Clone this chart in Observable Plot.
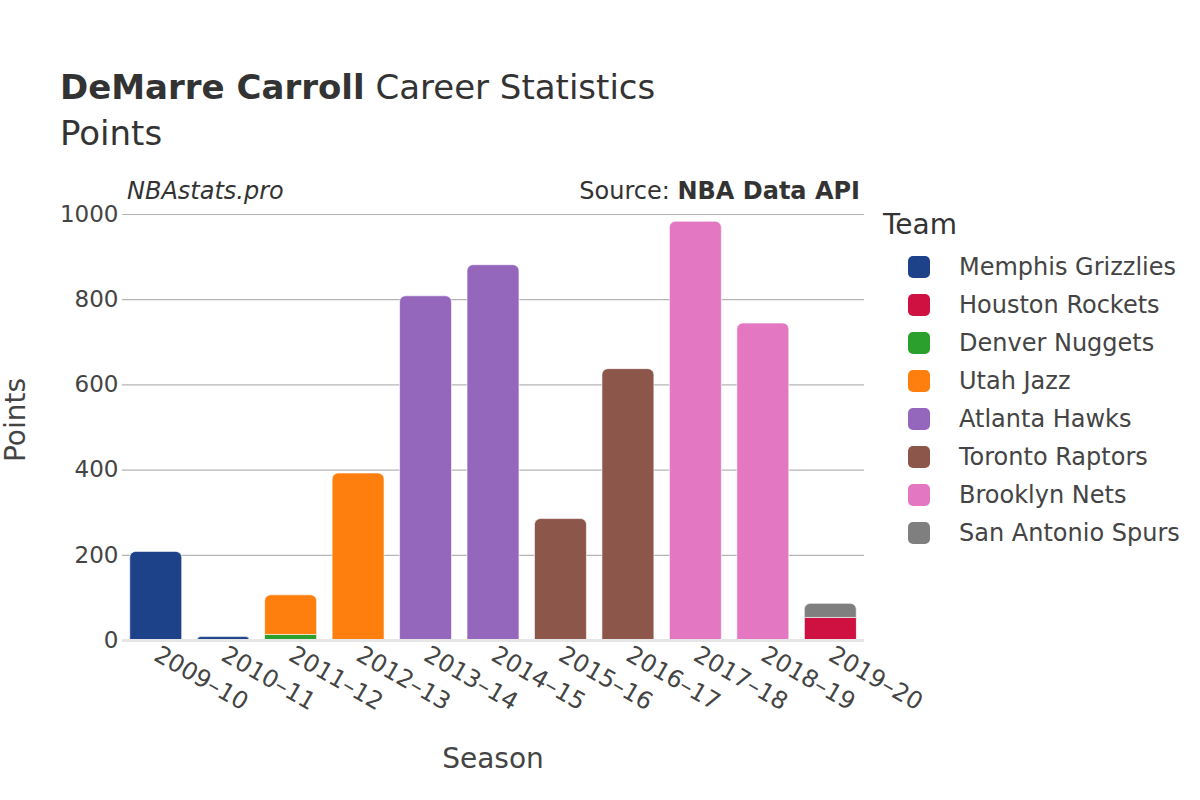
<!DOCTYPE html>
<html><head><meta charset="utf-8">
<script src="https://cdn.jsdelivr.net/npm/d3@7"></script>
<script src="https://cdn.jsdelivr.net/npm/@observablehq/plot@0.6"></script>
<style>
body{margin:0;background:#fff;font-family:"DejaVu Sans",sans-serif;}
#wrap{position:relative;width:1200px;height:800px;overflow:hidden;background:#fff}
.abs{position:absolute;white-space:nowrap;color:#333;line-height:1}
#chart{position:absolute;left:0;top:0}
.leg{position:absolute;left:908px;display:flex;align-items:center}
.sw{width:22px;height:22px;border-radius:5px;margin-right:29px}
</style></head><body><div id="wrap"><div id="chart"></div></div>
<script>
// ---- data ----
const seasons = ["2009–10","2010–11","2011–12","2012–13","2013–14","2014–15","2015–16","2016–17","2017–18","2018–19","2019–20"];
const teams = ["Memphis Grizzlies","Houston Rockets","Denver Nuggets","Utah Jazz","Atlanta Hawks","Toronto Raptors","Brooklyn Nets","San Antonio Spurs"];
const teamColors = ["#1d428a","#ce1141","#2ca02c","#ff7f0e","#9467bd","#8c564b","#e377c2","#7f7f7f"];
const rowSeason = ["2009–10","2010–11","2011–12","2011–12","2012–13","2013–14","2014–15","2015–16","2016–17","2017–18","2018–19","2019–20","2019–20"];
const rowTeam = ["Memphis Grizzlies","Memphis Grizzlies","Denver Nuggets","Utah Jazz","Utah Jazz","Atlanta Hawks","Atlanta Hawks","Toronto Raptors","Toronto Raptors","Brooklyn Nets","Brooklyn Nets","Houston Rockets","San Antonio Spurs"];
const rowPoints = [208,8,13,93,392,808,881,285,637,983,744,53,33];
const yTicks = [0,200,400,600,800,1000];

// ---- stacking (in legend order) ----
const rows = rowSeason.map((s,i)=>({season:s, team:rowTeam[i], points:rowPoints[i]}));
rows.sort((a,b)=> seasons.indexOf(a.season)-seasons.indexOf(b.season) || teams.indexOf(a.team)-teams.indexOf(b.team));
const acc = {};
rows.forEach(r=>{ const b = acc[r.season]||0; r.y1=b; r.y2=b+r.points; acc[r.season]=r.y2; });
rows.forEach(r=>{ r.top = r.y2===acc[r.season]; });
const lower = rows.filter(r=>!r.top), upper = rows.filter(r=>r.top);

const chart = Plot.plot({
  width:1200, height:800,
  marginTop:214, marginBottom:160, marginLeft:122, marginRight:336,
  style:{fontFamily:"DejaVu Sans, sans-serif", fontSize:"23px", color:"#444", background:"transparent"},
  x:{domain:seasons, paddingInner:0.23, paddingOuter:0.115, round:false},
  y:{domain:[0,1000]},
  color:{domain:teams, range:teamColors},
  marks:[
    Plot.ruleY(yTicks.filter(d=>d>0), {stroke:"#b4b4b4", strokeWidth:1.2}),
    Plot.barY(lower, {x:"season", y1:"y1", y2:"y2", fill:"team", stroke:"#fff", strokeWidth:0.6}),
    Plot.barY(upper, {x:"season", y1:"y1", y2:"y2", fill:"team", stroke:"#fff", strokeWidth:0.6, rx1y1:6, rx2y1:6}),
    Plot.ruleY([0], {stroke:"#e6e6e6", strokeWidth:3}),
    Plot.axisY({ticks:yTicks, tickFormat:d=>String(d), tickSize:0, tickPadding:4, label:null, fontSize:23}),
    Plot.axisX({tickRotate:30, tickSize:0, tickPadding:12, label:null, fontSize:24})
  ]
});
document.getElementById("chart").appendChild(chart);

// ---- texts ----
const wrap = document.getElementById("wrap");
function addText(html, css){ const d=document.createElement("div"); d.className="abs"; d.innerHTML=html; Object.assign(d.style, css); wrap.appendChild(d); return d; }
addText('<b>DeMarre Carroll</b> Career Statistics', {left:"60px", top:"70px", fontSize:"34px"});
addText('Points', {left:"60px", top:"116px", fontSize:"34px"});
addText('<i>NBAstats.pro</i>', {left:"127px", top:"179px", fontSize:"24px"});
addText('Source: <b>NBA Data API</b>', {right:"340px", top:"179px", fontSize:"24px"});
addText('Season', {left:"493px", top:"745px", fontSize:"28px", transform:"translateX(-50%)", color:"#444"});
addText('Points', {left:"16px", top:"420px", fontSize:"28px", transform:"translate(-50%,-50%) rotate(-90deg)", color:"#444"});
addText('Team', {left:"883px", top:"211px", fontSize:"28px"});
teams.forEach((t,i)=>{
  const d=document.createElement("div"); d.className="leg";
  d.style.top=(253+38*i)+"px";
  d.innerHTML=`<div class="sw" style="background:${teamColors[i]}"></div><span style="font-size:24px;color:#444">${t}</span>`;
  wrap.appendChild(d);
});
</script></body></html>
